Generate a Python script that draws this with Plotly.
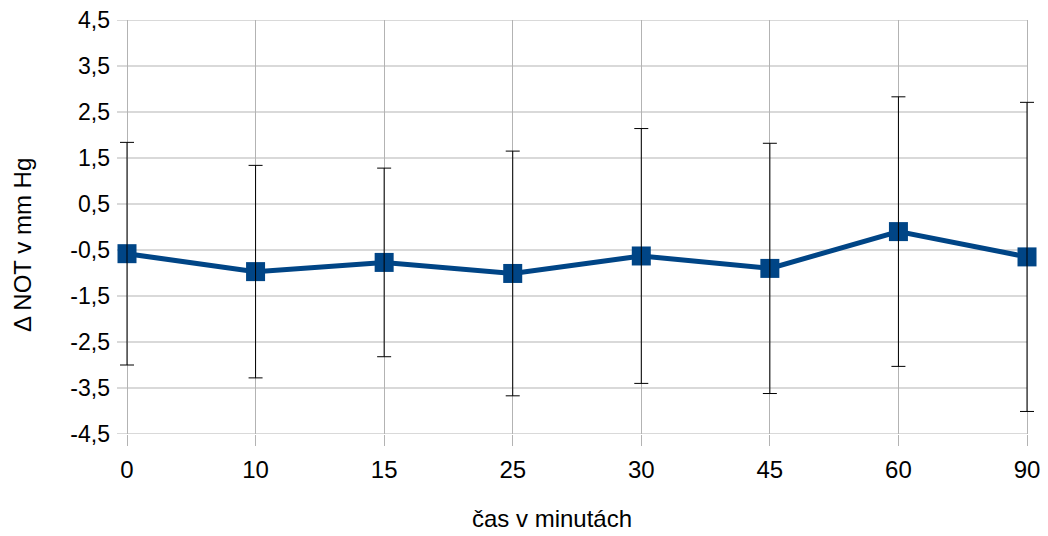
import plotly.graph_objects as go

categories = ["0", "10", "15", "25", "30", "45", "60", "90"]
means = [-0.58, -0.97, -0.77, -1.01, -0.63, -0.90, -0.10, -0.65]
errors = [2.42, 2.31, 2.05, 2.66, 2.77, 2.72, 2.93, 3.36]
y_ticks = [-4.5, -3.5, -2.5, -1.5, -0.5, 0.5, 1.5, 2.5, 3.5, 4.5]
y_tick_text = ["-4,5", "-3,5", "-2,5", "-1,5", "-0,5", "0,5", "1,5", "2,5", "3,5", "4,5"]
x_title = "čas v minutách"
y_title = "Δ NOT v mm Hg"

LINE_COLOR = "#004586"
GRID = "#b3b3b3"
FONT = "Liberation Sans, Arial, sans-serif"

# plot area slightly wider than the category span so edge error-bar caps are not clipped
X_RANGE = [-0.0778, 7.0544]

fig = go.Figure()
fig.add_trace(go.Scatter(
    x=categories, y=means, mode="lines+markers",
    line=dict(color=LINE_COLOR, width=5),
    marker=dict(symbol="square", size=19, color=LINE_COLOR),
    showlegend=False, hoverinfo="skip", cliponaxis=False,
))
fig.add_trace(go.Scatter(
    x=categories, y=means, mode="markers",
    marker=dict(size=1, opacity=0),
    error_y=dict(type="data", array=errors, visible=True,
                 color="black", thickness=1, width=7),
    showlegend=False, hoverinfo="skip", cliponaxis=False,
))

shapes = [
    dict(type="line", xref="x", yref="y", x0=X_RANGE[0], x1=len(categories) - 1,
         y0=v, y1=v, line=dict(color=GRID, width=1), layer="below")
    for v in y_ticks
]

fig.update_layout(
    template="none",
    width=1048, height=536,
    margin=dict(l=117, r=14, t=20, b=102),
    paper_bgcolor="white", plot_bgcolor="white",
    font=dict(family=FONT, color="black"),
    xaxis=dict(
        type="category", range=X_RANGE, automargin=False,
        showgrid=True, gridcolor=GRID, gridwidth=1,
        ticks="outside", ticklen=11, tickcolor=GRID, tickwidth=1,
        tickfont=dict(size=24, color="black"), ticklabelstandoff=3,
        showline=False, zeroline=False,
    ),
    yaxis=dict(
        range=[-4.5, 4.5], tickvals=y_ticks, ticktext=y_tick_text,
        automargin=False, showgrid=False, ticks="",
        tickfont=dict(size=23, color="black"), ticklabelstandoff=6,
        showline=False, zeroline=False,
    ),
    shapes=shapes,
    annotations=[
        dict(text=x_title, xref="paper", yref="paper", x=0.4744, y=0,
             xanchor="center", yanchor="middle", yshift=-84,
             showarrow=False, font=dict(size=24, color="black")),
        dict(text=y_title, xref="paper", yref="paper", x=0, y=0.4565,
             xanchor="center", yanchor="middle", xshift=-95, textangle=-90,
             showarrow=False, font=dict(size=24, color="black")),
    ],
)

fig.write_html("out.html", config={"displayModeBar": False},
               post_script="document.body.style.margin='0';")
